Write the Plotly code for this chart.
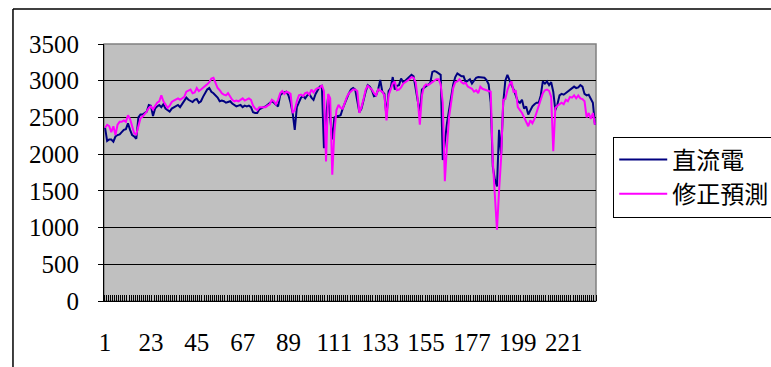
import plotly.graph_objects as go

# Daily series, index 1..236
direct_current = [
    2360, 2180, 2200, 2200, 2170, 2240, 2260, 2270, 2300, 2330,
    2340, 2420, 2330, 2260, 2240, 2210, 2500, 2540, 2540, 2560,
    2580, 2670, 2660, 2520, 2620, 2650, 2670, 2640, 2680, 2620,
    2600, 2580, 2620, 2640, 2650, 2670, 2640, 2690, 2730, 2770,
    2740, 2720, 2710, 2740, 2750, 2700, 2720, 2780, 2830, 2880,
    2900, 2850, 2830, 2800, 2770, 2720, 2730, 2720, 2700, 2710,
    2720, 2690, 2670, 2650, 2660, 2670, 2640, 2660, 2650, 2660,
    2640, 2570, 2560, 2560, 2610, 2630, 2640, 2650, 2670, 2700,
    2720, 2700, 2680, 2650, 2800, 2830, 2840, 2850, 2800, 2700,
    2560, 2330, 2640, 2710, 2770, 2790, 2760, 2800, 2820, 2770,
    2740, 2820, 2880, 2920, 2930, 2080, 2500, 2780, 2500, 2200,
    2500, 2520, 2520, 2530, 2620, 2700, 2780, 2830, 2880, 2900,
    2880, 2700, 2570, 2620, 2750, 2850, 2940, 2920, 2870, 2790,
    2800, 2880, 3010, 2850, 2820, 2510, 2860, 2900, 3050, 2880,
    2930, 2940, 3030, 2980, 3000, 3030, 3050, 3080, 3060, 2900,
    2700, 2560, 2880, 2900, 2920, 2950, 2970, 3120, 3130, 3120,
    3100, 3080, 1920, 2200, 2420, 2600, 2760, 2950, 3050, 3100,
    3080, 3060, 3060, 2980, 3000, 3020, 2960, 3000, 3040, 3050,
    3050, 3050, 3040, 3010, 2950, 2700, 1830, 1650, 1560, 2330,
    2000, 2700, 3000, 3080, 3000, 2940, 2880, 2800, 2720, 2700,
    2740, 2620, 2650, 2540, 2600, 2650, 2680, 2700, 2700, 2800,
    2990, 2960, 2990, 2940, 2980, 2850, 2600, 2680, 2800, 2820,
    2810, 2830, 2850, 2870, 2900, 2920, 2900, 2910, 2940, 2920,
    2820, 2800, 2810, 2760, 2700, 2400,
]

corrected_forecast = [
    2360, 2400, 2380, 2300, 2380, 2260, 2400, 2440, 2440, 2460,
    2440, 2530, 2480, 2360, 2280, 2270, 2400, 2490, 2510, 2540,
    2580, 2630, 2650, 2610, 2660, 2700, 2720, 2800, 2720, 2680,
    2630, 2660, 2710, 2730, 2750, 2760, 2740, 2760, 2780, 2850,
    2870, 2880, 2830, 2840, 2900, 2860, 2880, 2900, 2920, 2950,
    2980, 3030, 3040, 2980, 2900, 2870, 2830, 2810, 2800, 2830,
    2780, 2740, 2720, 2730, 2720, 2740, 2760, 2730, 2750, 2760,
    2740, 2660, 2620, 2600, 2640, 2640, 2650, 2640, 2660, 2680,
    2740, 2720, 2680, 2740, 2830, 2860, 2820, 2850, 2840, 2820,
    2560, 2600, 2720, 2800, 2810, 2790, 2830, 2840, 2810, 2880,
    2840, 2880, 2900, 2900, 2940, 2860, 1900, 2820, 2760, 1720,
    2300, 2600, 2670, 2630, 2620, 2710, 2780, 2830, 2860, 2880,
    2880, 2860, 2560, 2640, 2750, 2880, 2930, 2910, 2880, 2830,
    2800, 2880, 2860, 2850, 2800, 2460, 2800, 2880, 2960, 2990,
    2870, 2880, 2910, 2960, 2980, 2990, 3020, 3050, 3040, 2980,
    2750, 2400, 2800, 2920, 2950, 2940, 2960, 2990, 3010, 3020,
    3020, 2950, 2700, 1630, 2100, 2500, 2700, 2900, 2980, 2990,
    3020, 2980, 2960, 2970, 2920, 2910, 2890, 2850, 2870, 2830,
    2920, 2890, 2880, 2880, 2860, 2850, 1900, 1350, 970, 1500,
    1950, 2740, 2750, 2870, 2950, 2990, 2840, 2870, 2640, 2600,
    2560, 2500, 2450, 2380, 2460, 2420, 2480, 2560, 2650, 2720,
    2830, 2870, 2880, 2860, 2780, 2040, 2630, 2660, 2680, 2700,
    2680, 2740, 2720, 2780, 2770, 2800, 2760, 2800, 2760, 2750,
    2720, 2500, 2560, 2480, 2560, 2400,
]

days = list(range(1, len(direct_current) + 1))
x_labels = list(range(1, len(days) + 1, 22))
y_ticks = [0, 500, 1000, 1500, 2000, 2500, 3000, 3500]

serif = "Liberation Serif"
cjk = "Noto Sans CJK TC"

fig = go.Figure()
fig.add_trace(go.Scatter(
    x=days, y=direct_current, mode="lines", name="直流電",
    line=dict(color="#000080", width=2),
))
fig.add_trace(go.Scatter(
    x=days, y=corrected_forecast, mode="lines", name="修正預測",
    line=dict(color="#FF00FF", width=2),
))

fig.update_layout(
    width=771, height=367,
    margin=dict(l=104, r=175, t=44, b=66, autoexpand=False),
    paper_bgcolor="white",
    plot_bgcolor="#C0C0C0",
    showlegend=True,
    legend=dict(
        x=1.035, y=0.64, xanchor="left", yanchor="top",
        bgcolor="white", bordercolor="black", borderwidth=1,
        font=dict(family=cjk, size=24, color="black"),
        itemwidth=48, tracegroupgap=0,
    ),
    xaxis=dict(
        range=[0.5, len(days) + 0.5],
        tickmode="array", tickvals=x_labels, ticktext=[str(v) for v in x_labels],
        ticks="", showgrid=False, zeroline=False,
        showline=True, linecolor="black", linewidth=1,
        tickfont=dict(family=serif, size=25, color="black"),
        ticklabelstandoff=19,
        minor=dict(tickmode="linear", tick0=0.5, dtick=1, ticks="inside",
                   ticklen=6, tickcolor="black", tickwidth=1, showgrid=False),
    ),
    yaxis=dict(
        range=[0, 3500],
        tickmode="array", tickvals=y_ticks,
        ticks="outside", ticklen=5, tickcolor="black",
        showgrid=True, gridcolor="black", gridwidth=1,
        zeroline=False,
        showline=True, linecolor="black", linewidth=1,
        tickfont=dict(family=serif, size=25, color="black"),
        ticklabelstandoff=14,
    ),
    shapes=[
        # plot area frame (top and right edges in gray)
        dict(type="rect", xref="paper", yref="paper", x0=0, x1=1, y0=0, y1=1,
             line=dict(color="#808080", width=1.5), layer="below"),
        # outer chart border
        dict(type="line", xref="paper", yref="paper",
             x0=-0.185, x1=-0.185, y0=1.136, y1=-0.4,
             line=dict(color="black", width=1.5)),
        dict(type="line", xref="paper", yref="paper",
             x0=-0.185, x1=1.5, y0=1.136, y1=1.136,
             line=dict(color="black", width=1.5)),
    ],
)

fig.write_html("out.html")
